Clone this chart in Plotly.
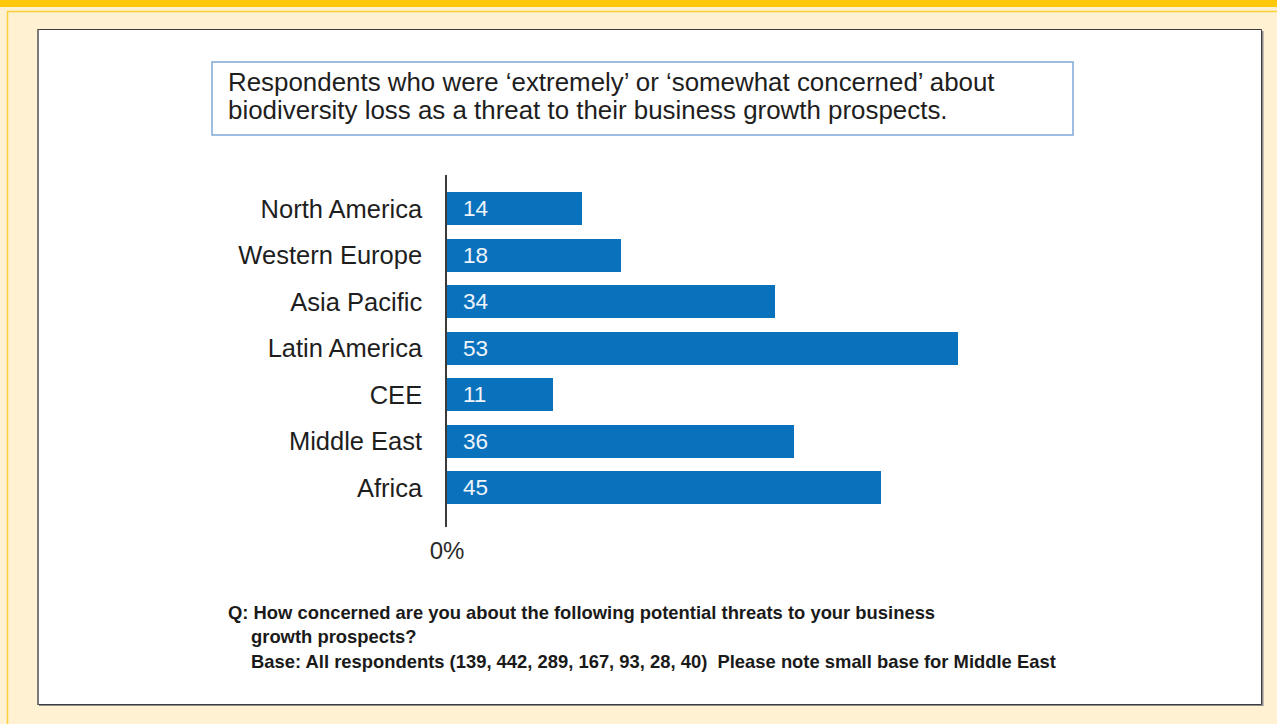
import plotly.graph_objects as go

# Survey results: share of respondents concerned about biodiversity loss
regions = ["North America", "Western Europe", "Asia Pacific", "Latin America",
           "CEE", "Middle East", "Africa"]
values = [14, 18, 34, 53, 11, 36, 45]

title_lines = [
    "Respondents who were \u2018extremely\u2019 or \u2018somewhat concerned\u2019 about",
    "biodiversity loss as a threat to their business growth prospects.",
]
note_lines = [
    "Q: How concerned are you about the following potential threats to your business",
    "growth prospects?",
    "Base: All respondents (139, 442, 289, 167, 93, 28, 40)  Please note small base for Middle East",
]

W, H = 1277, 724
FONT = "Liberation Sans, Arial, Helvetica, sans-serif"
BAR_BLUE = "#0A72BD"


def px(x):
    return x / W


def py(y):
    return 1 - y / H


positions = list(range(len(regions)))

fig = go.Figure()
fig.add_trace(go.Bar(
    x=values,
    y=positions,
    orientation="h",
    width=0.71,
    marker=dict(color=BAR_BLUE, line=dict(width=0)),
    hoverinfo="skip",
))

# Value labels placed just inside the base of each bar
annotations = []
for pos, v in zip(positions, values):
    annotations.append(dict(
        x=0, y=pos, xref="x", yref="y", text=str(v), showarrow=False,
        xanchor="left", yanchor="middle", xshift=14,
        font=dict(family=FONT, size=22.5, color="#EEF4FA"),
    ))

# Heading inside the bordered box
for i, line in enumerate(title_lines):
    annotations.append(dict(
        x=px(226), y=py(82 + 28 * i), xref="paper", yref="paper", text=line,
        showarrow=False, xanchor="left", yanchor="middle",
        font=dict(family=FONT, size=25.9, color="#1E1E1E"),
    ))

# Question / base note
note_x = [226, 249, 249]
for i, line in enumerate(note_lines):
    annotations.append(dict(
        x=px(note_x[i]), y=py(612 + 24.5 * i), xref="paper", yref="paper",
        text="<b>" + line + "</b>", showarrow=False, xanchor="left",
        yanchor="middle",
        font=dict(family=FONT, size=18.4, color="#1A1A1A"),
    ))

shapes = [
    # gold band along the top
    dict(type="rect", xref="paper", yref="paper", x0=0, x1=1, y0=py(7), y1=1,
         fillcolor="#FFC80B", line=dict(width=0), layer="below"),
    # thin yellow frame line
    dict(type="rect", xref="paper", yref="paper", x0=px(7.5), x1=px(1290),
         y0=py(800), y1=py(11.5), fillcolor="rgba(0,0,0,0)",
         line=dict(color="#FFCF3A", width=1.5), layer="below"),
    # drop shadow of the white panel
    dict(type="rect", xref="paper", yref="paper", x0=px(39), x1=px(1263.5),
         y0=py(706), y1=py(31), fillcolor="#8C8C8C",
         line=dict(width=0), layer="below"),
    # white panel
    dict(type="rect", xref="paper", yref="paper", x0=px(37.5), x1=px(1261.5),
         y0=py(704.5), y1=py(29.5), fillcolor="#FFFFFF",
         line=dict(color="#3C3C3C", width=1), layer="below"),
    # left edge of the panel is a softer, thicker grey
    dict(type="line", xref="paper", yref="paper", x0=px(38), x1=px(38),
         y0=py(704.5), y1=py(29.5), line=dict(color="#7A7A7A", width=2),
         layer="below"),
    # heading box
    dict(type="rect", xref="paper", yref="paper", x0=px(212), x1=px(1073),
         y0=py(135), y1=py(62), fillcolor="#FFFFFF",
         line=dict(color="#7FA8D8", width=1.5), layer="below"),
]

fig.update_layout(
    width=W, height=H,
    margin=dict(l=0, r=0, t=0, b=0, autoexpand=False),
    paper_bgcolor="#FFF1D2",
    plot_bgcolor="rgba(0,0,0,0)",
    showlegend=False,
    bargap=0,
    xaxis=dict(
        domain=[px(447), px(1247)],
        range=[0, 800 / 9.65],
        automargin=False,
        showgrid=False, zeroline=False, showline=False,
        tickmode="array", tickvals=[0], ticktext=["0%"],
        ticks="", ticklabelstandoff=7,
        tickfont=dict(family=FONT, size=24, color="#2A2A2A"),
        fixedrange=True,
    ),
    yaxis=dict(
        domain=[py(527), py(175)],
        range=[6.84, -0.73],
        automargin=False,
        showgrid=False, zeroline=False,
        showline=True, linecolor="#3A3A3A", linewidth=1.5,
        tickmode="array", tickvals=positions, ticktext=regions,
        ticks="", ticklabelstandoff=18,
        tickfont=dict(family=FONT, size=25.5, color="#1E1E1E"),
        fixedrange=True,
    ),
    annotations=annotations,
    shapes=shapes,
)

fig.write_html("out.html")
